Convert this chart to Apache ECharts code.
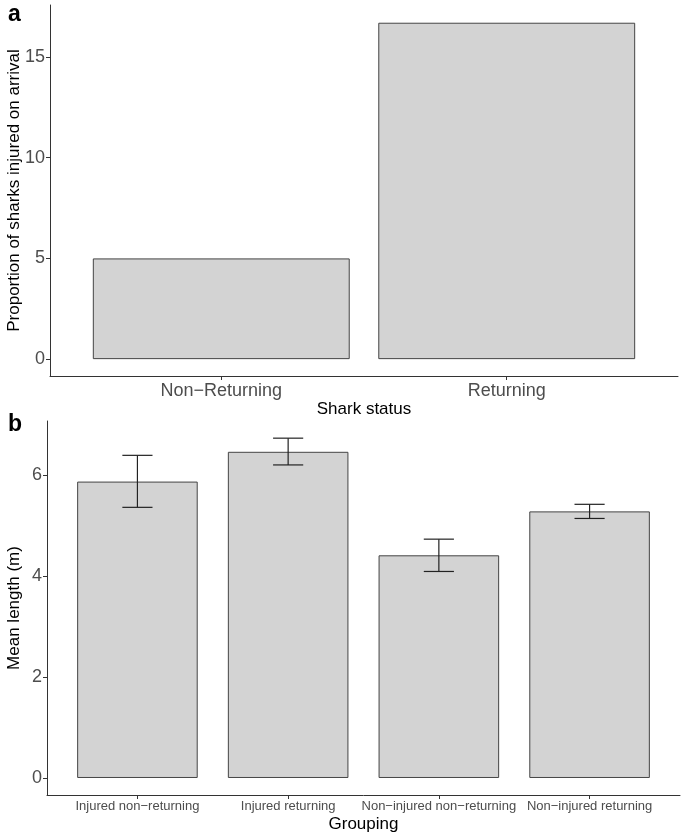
<!DOCTYPE html>
<html>
<head>
<meta charset="utf-8">
<script src="https://cdn.jsdelivr.net/npm/echarts@6/dist/echarts.min.js"></script>
<style>
html,body{margin:0;padding:0;background:#fff;}
#chart{width:685px;height:836px;}
</style>
</head>
<body>
<div id="chart"></div>
<script>
// ---- Data ----
const statusCats = ['Non\u2212Returning', 'Returning'];
const injuredPct = [5.0, 16.7];
const yTicksA = [0, 5, 10, 15];

const groupCats = ['Injured non\u2212returning', 'Injured returning', 'Non\u2212injured non\u2212returning', 'Non\u2212injured returning'];
const meanLength = [5.87, 6.46, 4.41, 5.28];
const lengthLower = [5.36, 6.20, 4.09, 5.14];
const lengthUpper = [6.39, 6.73, 4.73, 5.42];
const yTicksB = [0, 2, 4, 6];

// ---- Layout ----
const gridA = {left: 50, top: 5, width: 628, height: 371};
const gridB = {left: 47, top: 421, width: 633, height: 374};
const xRangeA = [0.4, statusCats.length + 0.6];
const xRangeB = [0.4, groupCats.length + 0.6];
const barWA = 0.9 * gridA.width / (xRangeA[1] - xRangeA[0]);
const barWB = 0.8 * gridB.width / (xRangeB[1] - xRangeB[0]);
const yRangeA = [-0.837, 17.58];
const yRangeB = [-0.337, 7.07];

const font = 'Liberation Sans, Arial, Helvetica, sans-serif';
const axisCol = '#333';
const tickLabelCol = '#4d4d4d';

const idx = (arr) => arr.map((_, i) => i + 1);

function xAxisCfg(gridIndex, range, cats, fontSize, margin, name, nameGap) {
  return {
    type: 'value', gridIndex, min: range[0], max: range[1],
    splitLine: {show: false},
    axisLine: {show: true, onZero: false, lineStyle: {color: axisCol, width: 1}},
    axisTick: {show: true, length: 4, customValues: idx(cats), lineStyle: {color: axisCol}},
    axisLabel: {customValues: idx(cats), formatter: v => cats[Math.round(v) - 1] || '',
      color: tickLabelCol, fontSize, fontFamily: font, margin, showMinLabel: true, showMaxLabel: true},
    name, nameLocation: 'middle', nameGap, nameMoveOverlap: false,
    nameTextStyle: {color: '#000', fontSize: 17, fontFamily: font}
  };
}
function yAxisCfg(gridIndex, range, ticks, name, nameGap) {
  return {
    type: 'value', gridIndex, min: range[0], max: range[1],
    splitLine: {show: false},
    axisLine: {show: true, onZero: false, lineStyle: {color: axisCol, width: 1}},
    axisTick: {show: true, length: 4, customValues: ticks, lineStyle: {color: axisCol}},
    axisLabel: {customValues: ticks, color: tickLabelCol, fontSize: 18, fontFamily: font, margin: 5},
    name, nameLocation: 'middle', nameGap, nameRotate: 90, nameMoveOverlap: false,
    nameTextStyle: {color: '#000', fontSize: 17, fontFamily: font}
  };
}

const barStyle = {color: '#d3d3d3', borderColor: '#444', borderWidth: 1};

const chart = echarts.init(document.getElementById('chart'), null, {renderer: 'canvas'});
chart.setOption({
  animation: false,
  backgroundColor: '#fff',
  grid: [
    Object.assign({containLabel: false, outerBoundsMode: 'none'}, gridA),
    Object.assign({containLabel: false, outerBoundsMode: 'none'}, gridB)
  ],
  xAxis: [
    xAxisCfg(0, xRangeA, statusCats, 18, 6, 'Shark status', 25),
    xAxisCfg(1, xRangeB, groupCats, 13, 5, 'Grouping', 21)
  ],
  yAxis: [
    yAxisCfg(0, yRangeA, yTicksA, 'Proportion of sharks injured on arrival', 27),
    yAxisCfg(1, yRangeB, yTicksB, 'Mean length (m)', 24)
  ],
  graphic: [
    {type: 'text', left: 8, top: 3, style: {text: 'a', font: 'bold 23px ' + font, fill: '#000'}},
    {type: 'text', left: 8, top: 413, style: {text: 'b', font: 'bold 23px ' + font, fill: '#000'}}
  ],
  series: [
    {
      type: 'bar', xAxisIndex: 0, yAxisIndex: 0, barWidth: barWA, silent: true,
      itemStyle: barStyle,
      data: injuredPct.map((v, i) => [i + 1, v])
    },
    {
      type: 'bar', xAxisIndex: 1, yAxisIndex: 1, barWidth: barWB, silent: true,
      itemStyle: barStyle,
      data: meanLength.map((v, i) => [i + 1, v])
    },
    {
      type: 'custom', xAxisIndex: 1, yAxisIndex: 1, silent: true, z: 5,
      encode: {x: 0, y: [1, 2]},
      data: lengthLower.map((lo, i) => [i + 1, lo, lengthUpper[i]]),
      renderItem: function (params, api) {
        const x = api.value(0), lo = api.value(1), hi = api.value(2);
        const pLo = api.coord([x, lo]);
        const pHi = api.coord([x, hi]);
        const half = api.size([0.1, 0])[0];
        const st = {stroke: '#222', lineWidth: 1.2};
        return {
          type: 'group',
          children: [
            {type: 'line', shape: {x1: pLo[0], y1: pLo[1], x2: pHi[0], y2: pHi[1]}, style: st},
            {type: 'line', shape: {x1: pHi[0] - half, y1: pHi[1], x2: pHi[0] + half, y2: pHi[1]}, style: st},
            {type: 'line', shape: {x1: pLo[0] - half, y1: pLo[1], x2: pLo[0] + half, y2: pLo[1]}, style: st}
          ]
        };
      }
    }
  ]
});
</script>
</body>
</html>
